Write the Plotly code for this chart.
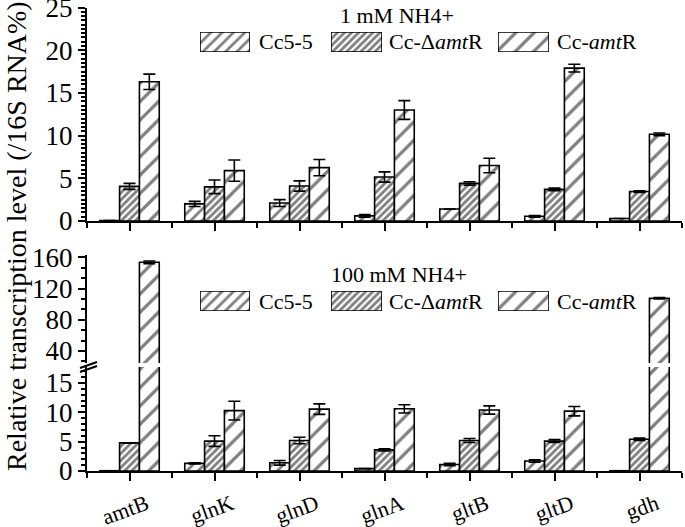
import plotly.graph_objects as go

genes = ["amtB", "glnK", "glnD", "glnA", "gltB", "gltD", "gdh"]
strains = ["Cc5-5", "Cc-Δ<i>amt</i>R", "Cc-<i>amt</i>R"]

# 1 mM NH4+
low_cc55 = [0.05, 2.0, 2.1, 0.6, 1.4, 0.55, 0.3]
low_cc55_err = [0.0, 0.3, 0.4, 0.15, 0.0, 0.1, 0.0]
low_dam = [4.05, 4.0, 4.1, 5.15, 4.4, 3.7, 3.45]
low_dam_err = [0.35, 0.8, 0.6, 0.6, 0.2, 0.15, 0.1]
low_amt = [16.3, 5.9, 6.25, 13.0, 6.5, 17.9, 10.15]
low_amt_err = [0.9, 1.25, 0.95, 1.1, 0.85, 0.45, 0.15]

# 100 mM NH4+
high_cc55 = [0.05, 1.3, 1.4, 0.4, 1.1, 1.7, 0.05]
high_cc55_err = [0.0, 0.1, 0.4, 0.0, 0.2, 0.2, 0.0]
high_dam = [4.8, 5.1, 5.2, 3.6, 5.2, 5.1, 5.4]
high_dam_err = [0.0, 0.9, 0.55, 0.2, 0.35, 0.25, 0.2]
high_amt = [153.6, 10.3, 10.55, 10.6, 10.4, 10.2, 107.5]
high_amt_err = [1.7, 1.6, 0.9, 0.7, 0.7, 0.8, 0.8]

xpos = list(range(len(genes)))

FONT = "Liberation Serif"
patterns = [
    dict(shape="/", size=8, solidity=0.35, fgcolor="black", bgcolor="white"),
    dict(shape="/", size=5, solidity=0.55, fgcolor="black", bgcolor="white"),
    dict(shape="/", size=13, solidity=0.25, fgcolor="black", bgcolor="white"),
]
W, H = 685, 527
L, R, T, B = 87, 3, 0, 56
PH = H - T - B
PW = W - L - R


def px_x(x):
    return (x - L) / PW


def px_y(y):
    return (H - B - y) / PH


fig = go.Figure()


def add_bars(vals, errs, xa, ya, i):
    fig.add_trace(go.Bar(
        x=xpos, y=vals, name=strains[i], xaxis=xa, yaxis=ya, showlegend=False,
        marker=dict(color="white", pattern=patterns[i], line=dict(color="black", width=1.6)),
        error_y=dict(type="data", array=errs, visible=True, color="black", thickness=1.6, width=6),
    ))


top = [(low_cc55, low_cc55_err), (low_dam, low_dam_err), (low_amt, low_amt_err)]
bot = [(high_cc55, high_cc55_err), (high_dam, high_dam_err), (high_amt, high_amt_err)]
for i, (v, e) in enumerate(top):
    add_bars(v, e, "x", "y", i)
for i, (v, e) in enumerate(bot):
    add_bars(v, e, "x2", "y3", i)
for i, (v, e) in enumerate(bot):
    add_bars(v, e, "x2", "y4", i)

xcommon = dict(range=[-0.5, 6.5], tickvals=xpos, ticktext=genes, showline=True, linecolor="black",
               linewidth=2, ticks="outside", ticklen=8, tickwidth=2, tickcolor="black",
               minor=dict(ticks="outside", tick0=0.5, dtick=1, ticklen=5, tickwidth=2, tickcolor="black"),
               showgrid=False, zeroline=False, tickfont=dict(family=FONT, size=22, color="black"))
ycommon = dict(showline=True, linecolor="black", linewidth=2, ticks="outside", ticklen=7, tickwidth=2,
               tickcolor="black", showgrid=False, zeroline=False, ticklabeloverflow="allow",
               tickfont=dict(family=FONT, size=27, color="black"))

layout_extra = {}
annotations = []
# legend swatches (hatched boxes) + legend texts, one row per panel
sw_x = [(200, 250), (331, 382), (498, 549)]
txt_x = [257, 387, 555]
rows = [(32, 52), (291, 311)]
ax_n = 3
for p, (ytop, ybot) in enumerate(rows):
    for i in range(3):
        xa, ya = f"x{ax_n}", f"y{ax_n + 2}"
        fig.add_trace(go.Bar(
            x=[strains[i]], y=[1], xaxis=xa, yaxis=ya, showlegend=False, cliponaxis=False,
            hoverinfo="skip",
            marker=dict(color="white", pattern=patterns[i], line=dict(color="black", width=1.6)),
        ))
        layout_extra[f"xaxis{ax_n}"] = dict(domain=[px_x(sw_x[i][0]), px_x(sw_x[i][1])], anchor=ya,
                                            range=[-0.35, 0.35], visible=False, fixedrange=True)
        layout_extra[f"yaxis{ax_n + 2}"] = dict(domain=[px_y(ybot), px_y(ytop)], anchor=xa,
                                                range=[0, 1], visible=False, fixedrange=True)
        annotations.append(dict(text=strains[i], x=px_x(txt_x[i]), y=px_y((ytop + ybot) / 2),
                                xref="paper", yref="paper", xanchor="left", yanchor="middle",
                                showarrow=False, font=dict(family=FONT, size=22, color="black")))
        ax_n += 1

annotations += [
    dict(text="1 mM NH4+", x=px_x(397), y=px_y(16), xref="paper", yref="paper", showarrow=False,
         xanchor="center", yanchor="middle", font=dict(family=FONT, size=22, color="black")),
    dict(text="100 mM NH4+", x=px_x(399), y=px_y(274), xref="paper", yref="paper", showarrow=False,
         xanchor="center", yanchor="middle", font=dict(family=FONT, size=22, color="black")),
    dict(text="Relative transcription level (/16S RNA%)", x=px_x(16), y=px_y(236), xref="paper",
         yref="paper", xanchor="center", yanchor="middle",
         showarrow=False, textangle=-90, font=dict(family=FONT, size=28, color="black")),
]

fig.update_layout(
    width=W, height=H,
    margin=dict(l=L, r=R, t=T, b=B, autoexpand=False),
    plot_bgcolor="white", paper_bgcolor="white",
    barmode="group", bargap=0.3, bargroupgap=0, showlegend=False,
    font=dict(family=FONT, color="black"),
    xaxis=dict(xcommon, anchor="y", showticklabels=False),
    yaxis=dict(ycommon, domain=[px_y(221), px_y(7.5)], range=[0, 25], tickvals=[0, 5, 10, 15, 20, 25],
               minor=dict(ticks="outside", dtick=0.5, ticklen=4, tickwidth=1.5, tickcolor="black")),
    xaxis2=dict(xcommon, anchor="y3", tickangle=-20, ticklabelshift=17, ticklabelstandoff=2),
    yaxis3=dict(ycommon, domain=[0, px_y(367)], range=[0, 17.73], tickvals=[0, 5, 10, 15], anchor="x2",
                minor=dict(ticks="outside", dtick=1, ticklen=4, tickwidth=1.5, tickcolor="black")),
    yaxis4=dict(ycommon, domain=[px_y(363), px_y(255)], range=[24.6, 162.9], tickvals=[40, 80, 120, 160],
                anchor="x2",
                minor=dict(ticks="outside", tick0=0, dtick=40 / 3, ticklen=4, tickwidth=1.5, tickcolor="black")),
    annotations=annotations,
    shapes=[
        dict(type="line", xref="paper", yref="paper", x0=px_x(80), x1=px_x(97), y0=px_y(368), y1=px_y(362),
             line=dict(color="black", width=2)),
        dict(type="line", xref="paper", yref="paper", x0=px_x(80), x1=px_x(97), y0=px_y(372), y1=px_y(366),
             line=dict(color="black", width=2)),
    ],
    **layout_extra,
)

fig.write_html("out.html", config={"displayModeBar": False},
               post_script="document.body.style.margin='0px';")
